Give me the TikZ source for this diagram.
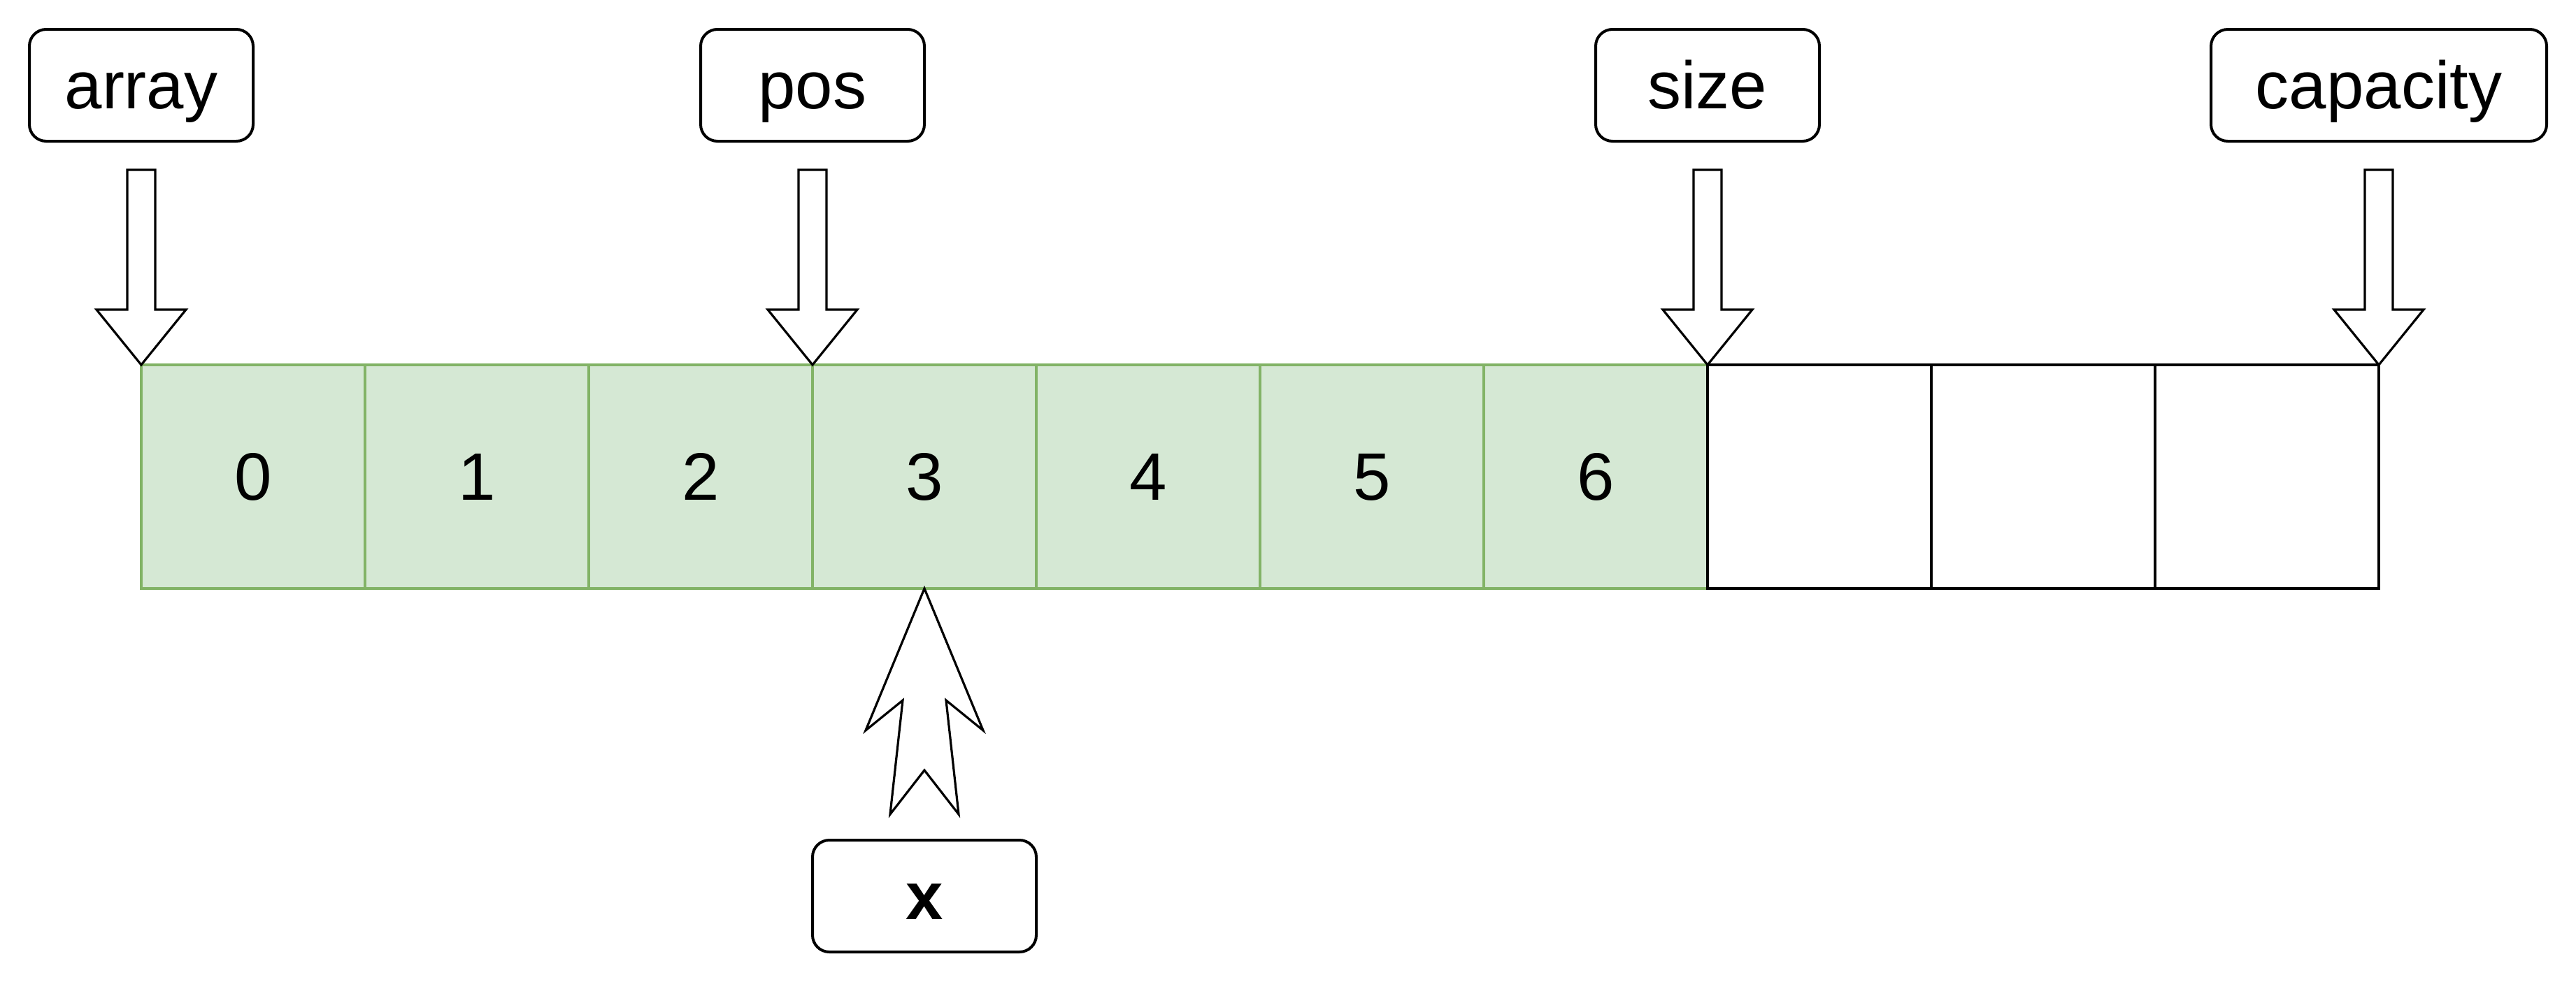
\documentclass[tikz,border=0pt]{standalone}
\usepackage{fontspec}
\setmainfont{Liberation Sans}
\usetikzlibrary{calc}
\definecolor{cellfill}{HTML}{D5E8D4}
\definecolor{cellline}{HTML}{82B366}
\newcommand\downblock[1]{%
  \draw[blockarrow] (#1) -- ++(16,-19.75) -- ++(-11,0) -- ++(0,-50) -- ++(-10,0)
    -- ++(0,50) -- ++(-11,0) -- cycle;}
\begin{document}
\begin{tikzpicture}[x=1pt,y=-1pt,
  every node/.style={inner sep=0pt, outer sep=0pt,
    font=\fontsize{24}{28.8}\selectfont, text height=21.7pt, text depth=5.1pt},
  tagbox/.style={draw=black, fill=white, line width=1pt, rounded corners=6pt,
    minimum height=40pt, minimum width=80pt},
  usedcell/.style={draw=cellline, fill=cellfill, line width=1pt,
    minimum width=80pt, minimum height=80pt},
  freecell/.style={draw=black, fill=white, line width=1pt,
    minimum width=80pt, minimum height=80pt},
  blockarrow/.style={draw=black, fill=white, line width=0.8pt, line join=miter}]
\useasboundingbox (0,0) rectangle (921,351);

% cells
\foreach \i in {0,...,6} {
  \node[usedcell] (c\i) at (90.5+80*\i,170.5) {\i};
}
\foreach \i in {7,8,9} {
  \node[freecell] (c\i) at (90.5+80*\i,170.5) {};
}

% labels
\node[tagbox] (array) at (50.5,30.5) {array};
\node[tagbox] (pos) at (290.5,30.5) {pos};
\node[tagbox] (size) at (610.5,30.5) {size};
\node[tagbox, minimum width=120pt] (capacity) at (850.5,30.5) {capacity};
\node[tagbox, font=\fontsize{24}{28.8}\selectfont\bfseries] (x) at (330.5,320.5) {x};

% pointer arrows
\downblock{c0.north west}
\downblock{c3.north west}
\downblock{c7.north west}
\downblock{c9.north east}

% insertion arrow from x up to cell 3
\draw[blockarrow] (c3.south) -- ++(21,50.75) -- ++(-13.25,-10.75) -- ++(4.5,40.75)
  -- ($(c3.south)+(0,65)$) -- ++(-12.25,15.75) -- ++(4.5,-40.75) -- ++(-13.25,10.75) -- cycle;
\end{tikzpicture}
\end{document}
